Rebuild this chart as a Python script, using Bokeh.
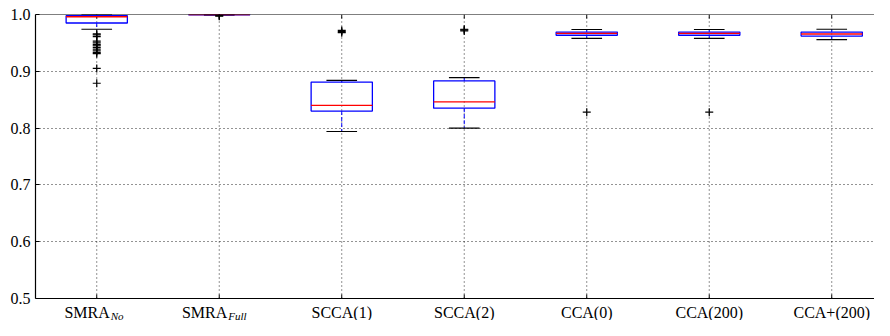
from bokeh.plotting import figure
from bokeh.models import Range1d, FixedTicker, Span, ColumnDataSource
from bokeh.core.properties import value
from bokeh.embed import file_html
from bokeh.resources import INLINE

# ---- data ----
categories = ["SMRA", "SMRA", "SCCA(1)", "SCCA(2)", "CCA(0)", "CCA(200)", "CCA+(200)"]
subscripts = ["No", "Full", "", "", "", "", ""]
q1 = [0.985, 0.9995, 0.830, 0.835, 0.9635, 0.9635, 0.962]
median = [0.996, 1.000, 0.840, 0.846, 0.9668, 0.9668, 0.9657]
q3 = [0.998, 1.000, 0.881, 0.883, 0.969, 0.969, 0.969]
whisker_low = [0.974, 0.999, 0.794, 0.800, 0.958, 0.958, 0.9556]
whisker_high = [1.000, 1.000, 0.884, 0.889, 0.9736, 0.9736, 0.974]
flier_cat = [1] * 14 + [2, 2] + [3, 3, 3] + [4, 4, 4] + [5] + [6]
flier_val = [0.966, 0.964, 0.961, 0.953, 0.950, 0.947, 0.945, 0.942, 0.939,
             0.936, 0.933, 0.931, 0.905, 0.879,
             0.997, 0.998,
             0.968, 0.970, 0.972,
             0.971, 0.973, 0.974,
             0.828,
             0.828]
y_ticks = [0.5, 0.6, 0.7, 0.8, 0.9, 1.0]
y_tick_labels = ["0.5", "0.6", "0.7", "0.8", "0.9", "1.0"]

FONT = "Liberation Serif"
positions = list(range(1, len(categories) + 1))
box_w = 0.5
cap_w = 0.25

# layout: frame from TOP px to the bottom of the figure; labels sit below 0.5
W, H = 874, 320
LEFT = 35
TOP = 14
PLOT_PX = 284                      # pixels between 0.5 and 1.0
px_per_unit = PLOT_PX / (y_ticks[-1] - y_ticks[0])
y_lo = y_ticks[0] - (H - TOP - PLOT_PX) / px_per_unit
tick_len = 4 / px_per_unit

p = figure(width=W, height=H, output_backend="svg", toolbar_location=None,
           x_range=Range1d(0.5, 7.349), y_range=Range1d(y_lo, y_ticks[-1]),
           min_border_left=LEFT, min_border_right=0, min_border_top=TOP,
           min_border_bottom=0)
p.outline_line_color = None
p.background_fill_color = "white"
p.border_fill_color = "white"

# x axis is drawn by hand (spine, ticks, labels) so that labels with subscripts fit
p.xaxis.visible = False
p.xgrid.visible = False

p.yaxis.ticker = FixedTicker(ticks=y_ticks)
p.yaxis.bounds = (y_ticks[0], y_ticks[-1])
p.yaxis.major_label_overrides = {t: l for t, l in zip(y_ticks, y_tick_labels)}
p.yaxis.major_label_text_font = FONT
p.yaxis.major_label_text_font_size = "16px"
p.yaxis.major_label_text_color = "black"
p.yaxis.major_label_standoff = 5
p.yaxis.major_tick_in = 4
p.yaxis.major_tick_out = 0
p.yaxis.minor_tick_line_color = None
p.yaxis.axis_line_color = "black"
p.yaxis.axis_line_width = 1.2
p.yaxis.major_tick_line_color = "black"

p.ygrid.ticker = FixedTicker(ticks=y_ticks)
p.ygrid.grid_line_color = "black"
p.ygrid.grid_line_alpha = 0.85
p.ygrid.grid_line_dash = "1 3"
p.ygrid.grid_line_width = 1

# vertical dotted grid lines at the categories
n = len(positions)
p.segment(x0=positions, y0=[y_ticks[0]] * n, x1=positions, y1=[y_ticks[-1]] * n,
          line_color="black", line_alpha=0.85, line_dash="1 3", line_width=1)

# spines: bottom and top
p.add_layout(Span(location=y_ticks[0], dimension="width", line_color="black", line_width=1.2))
p.add_layout(Span(location=y_ticks[-1], dimension="width", line_color="black", line_width=1))
# inward tick marks at bottom and top
p.segment(x0=positions, y0=[y_ticks[0]] * n, x1=positions,
          y1=[y_ticks[0] + tick_len] * n, line_color="black", line_width=1)
p.segment(x0=positions, y0=[y_ticks[-1]] * n, x1=positions,
          y1=[y_ticks[-1] - tick_len] * n, line_color="black", line_width=1)

src = ColumnDataSource(dict(
    x=positions, q1=q1, med=median, q3=q3, lo=whisker_low, hi=whisker_high,
    bl=[x - box_w / 2 for x in positions], br=[x + box_w / 2 for x in positions],
    cl=[x - cap_w / 2 for x in positions], cr=[x + cap_w / 2 for x in positions],
))

# whiskers (blue dashed)
p.segment(x0="x", y0="q3", x1="x", y1="hi", source=src, line_color="#0000ff",
          line_width=1, line_dash="4 2")
p.segment(x0="x", y0="q1", x1="x", y1="lo", source=src, line_color="#0000ff",
          line_width=1, line_dash="4 2")
# caps
p.segment(x0="cl", y0="hi", x1="cr", y1="hi", source=src, line_color="black", line_width=1.2)
p.segment(x0="cl", y0="lo", x1="cr", y1="lo", source=src, line_color="black", line_width=1.2)
# boxes
p.quad(left="bl", right="br", bottom="q1", top="q3", source=src, fill_color=None,
       line_color="#0000ff", line_width=1.3)
# medians
p.segment(x0="bl", y0="med", x1="br", y1="med", source=src, line_color="#ff0000",
          line_width=1.3)
# fliers
p.scatter(x=flier_cat, y=flier_val, marker="cross", size=8, line_color="black",
          line_width=1.2)

# category labels
plain = [(x, c) for x, c, s in zip(positions, categories, subscripts) if not s]
subbed = [(x, c, s) for x, c, s in zip(positions, categories, subscripts) if s]
sub_shift = {"No": 13, "Full": 8}

lab_plain = ColumnDataSource(dict(x=[a for a, _ in plain], y=[y_ticks[0]] * len(plain),
                                  t=[b for _, b in plain]))
p.text(x="x", y="y", text="t", source=lab_plain, text_align="center",
       text_baseline="alphabetic", y_offset=14, text_font=value(FONT),
       text_font_size="16px", text_color="black")

lab_main = ColumnDataSource(dict(x=[a for a, _, _ in subbed], y=[y_ticks[0]] * len(subbed),
                                 t=[b for _, b, _ in subbed],
                                 dx=[sub_shift[s] for _, _, s in subbed]))
p.text(x="x", y="y", text="t", source=lab_main, x_offset="dx", text_align="right",
       text_baseline="alphabetic", y_offset=14, text_font=value(FONT),
       text_font_size="16px", text_color="black")

lab_sub = ColumnDataSource(dict(x=[a for a, _, _ in subbed], y=[y_ticks[0]] * len(subbed),
                                t=[s for _, _, s in subbed],
                                dx=[sub_shift[s] + 1 for _, _, s in subbed]))
p.text(x="x", y="y", text="t", source=lab_sub, x_offset="dx", text_align="left",
       text_baseline="alphabetic", y_offset=17, text_font=value(FONT),
       text_font_style="italic", text_font_size="11px", text_color="black")

open("out.html", "w").write(file_html(p, INLINE))
